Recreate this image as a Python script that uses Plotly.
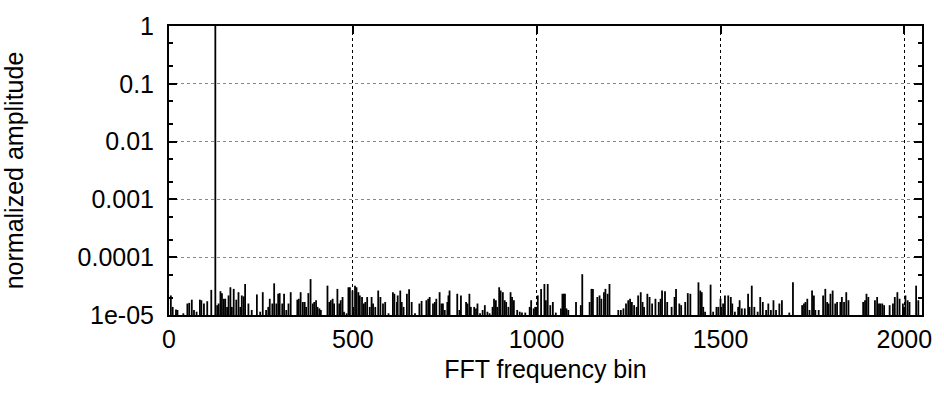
import plotly.graph_objects as go

# Main tone
peak_bin = [126]
peak_amp = [1.0]

# Noise floor spikes (bin, amplitude in units of 1e-5)
noise_bins = [
    5, 10, 19, 23, 39, 50, 55, 62, 68, 75, 84, 88, 95, 104, 115, 131, 135, 140, 144, 149,
    153, 158, 162, 167, 171, 176, 183, 189, 194, 198, 203, 207, 216, 225, 239, 248, 255, 264, 270, 274,
    281, 286, 292, 297, 301, 308, 313, 319, 325, 331, 349, 353, 358, 364, 369, 373, 379, 385, 391, 395,
    400, 404, 409, 413, 431, 436, 440, 445, 449, 458, 463, 467, 472, 476, 483, 488, 492, 499, 506, 510,
    515, 519, 525, 530, 534, 539, 546, 551, 555, 561, 569, 575, 582, 588, 597, 609, 613, 620, 622, 629,
    633, 638, 647, 653, 660, 669, 681, 687, 700, 705, 709, 718, 723, 727, 736, 741, 745, 750, 757, 760,
    763, 784, 790, 794, 808, 812, 817, 821, 830, 835, 839, 846, 853, 859, 866, 872, 880, 884, 889, 893,
    898, 902, 908, 913, 917, 923, 929, 933, 938, 947, 954, 960, 969, 981, 985, 992, 996, 1003, 1012, 1021,
    1025, 1030, 1037, 1044, 1052, 1066, 1070, 1074, 1077, 1081, 1086, 1107, 1120, 1124, 1144, 1149, 1153, 1165, 1171, 1176,
    1183, 1187, 1193, 1198, 1222, 1229, 1236, 1243, 1249, 1254, 1259, 1265, 1272, 1276, 1283, 1288, 1292, 1301, 1307, 1314,
    1323, 1332, 1337, 1341, 1349, 1355, 1367, 1375, 1379, 1388, 1393, 1404, 1411, 1418, 1440, 1445, 1449, 1453, 1458, 1473,
    1480, 1489, 1494, 1500, 1507, 1512, 1521, 1528, 1532, 1539, 1548, 1552, 1558, 1566, 1575, 1579, 1585, 1592, 1601, 1608,
    1615, 1624, 1630, 1637, 1644, 1651, 1660, 1667, 1687, 1697, 1722, 1727, 1731, 1736, 1742, 1749, 1754, 1758, 1767, 1779,
    1785, 1790, 1794, 1799, 1805, 1812, 1817, 1826, 1830, 1836, 1842, 1848, 1888, 1893, 1897, 1902, 1920, 1926, 1931, 1935,
    1940, 1945, 1960, 1969, 1974, 1981, 1987, 1996, 2003, 2009, 2014, 2032, 2038,
]
noise_amp_e5 = [
    2.18, 1.38, 1.25, 1.22, 1.07, 1.58, 1.62, 1.84, 1.22, 1.14, 1.84, 1.80, 1.58, 1.73, 2.72, 1.48, 1.58, 2.58, 2.39, 1.91,
    1.91, 1.38, 2.18, 3.02, 1.38, 2.83, 1.84, 2.48, 1.38, 2.18, 2.10, 3.44, 1.58, 1.22, 2.27, 1.14, 2.48, 1.22, 1.38, 1.91,
    1.58, 3.53, 1.58, 2.33, 2.39, 1.58, 2.33, 1.22, 1.58, 2.48, 1.84, 1.91, 2.48, 1.68, 1.68, 1.38, 2.39, 4.18, 1.58, 1.68,
    1.80, 1.38, 1.30, 1.22, 3.22, 1.68, 1.80, 1.91, 1.58, 2.83, 1.58, 1.80, 2.05, 1.14, 1.07, 3.02, 3.02, 2.65, 3.22, 3.02,
    2.48, 2.18, 2.05, 1.58, 1.68, 2.05, 1.38, 2.05, 1.58, 1.38, 2.65, 2.05, 1.58, 1.68, 1.07, 2.48, 2.33, 1.68, 2.18, 2.65,
    1.68, 1.38, 2.33, 2.80, 1.68, 1.07, 1.58, 1.75, 1.80, 1.91, 2.05, 1.58, 1.68, 1.91, 2.48, 1.58, 1.58, 1.22, 1.68, 2.18,
    2.65, 2.33, 1.22, 2.18, 1.68, 1.58, 2.33, 1.38, 1.38, 1.30, 1.58, 1.07, 1.22, 1.48, 1.14, 1.07, 1.38, 1.91, 1.80, 1.38,
    3.02, 2.65, 2.48, 1.80, 1.68, 1.38, 2.48, 2.05, 1.80, 1.22, 1.14, 1.10, 1.10, 1.38, 1.80, 1.30, 1.38, 2.18, 2.83, 3.44,
    1.80, 3.44, 1.48, 1.68, 1.10, 1.30, 2.33, 2.33, 2.33, 1.30, 1.22, 1.68, 1.48, 5.08, 1.68, 2.83, 2.83, 2.05, 2.18, 1.91,
    2.48, 2.83, 2.33, 3.44, 1.22, 1.22, 1.30, 1.58, 1.80, 1.91, 1.68, 1.48, 1.38, 2.18, 2.48, 1.68, 1.38, 2.33, 2.05, 1.58,
    1.91, 1.68, 1.91, 2.65, 2.58, 1.68, 1.38, 2.05, 2.83, 1.58, 1.48, 1.68, 2.39, 2.33, 3.67, 2.65, 2.48, 1.38, 1.14, 3.35,
    1.14, 1.38, 1.38, 1.91, 1.58, 2.18, 2.18, 2.05, 1.58, 1.14, 1.38, 1.80, 1.30, 1.30, 2.33, 1.38, 3.22, 1.38, 1.14, 2.05,
    1.68, 1.22, 1.58, 1.22, 1.80, 1.22, 1.58, 1.80, 1.10, 3.67, 1.48, 1.58, 1.68, 1.91, 1.22, 2.65, 2.18, 1.22, 1.22, 2.18,
    2.83, 1.68, 1.58, 2.33, 2.65, 1.58, 1.68, 1.68, 2.05, 1.68, 2.48, 1.80, 1.68, 1.80, 2.33, 2.05, 1.80, 2.05, 1.58, 1.58,
    1.58, 1.48, 1.48, 1.58, 2.05, 2.48, 1.91, 1.58, 2.18, 1.80, 1.68, 3.22, 1.80,
]
NOISE_UNIT = 1e-5

y_tick_vals = [1e-5, 1e-4, 1e-3, 1e-2, 1e-1, 1]
y_tick_text = ["1e-05", "0.0001", "0.001", "0.01", "0.1", "1"]
x_tick_vals = [0, 500, 1000, 1500, 2000]

FLOOR = 1e-5

# Build impulse segments (from floor up to value)
all_bins = peak_bin + noise_bins
all_amps = peak_amp + [a * NOISE_UNIT for a in noise_amp_e5]
xs, ys = [], []
for b, a in zip(all_bins, all_amps):
    xs += [b, b, None]
    ys += [FLOOR, a, None]

fig = go.Figure()
fig.add_trace(go.Scatter(
    x=xs, y=ys, mode="lines",
    line=dict(color="black", width=1.8),
    hoverinfo="skip", showlegend=False,
))

minor_vals = []
for d in range(-5, 0):
    minor_vals += [2 * 10 ** d, 5 * 10 ** d]

FAM = "Liberation Sans, Arial, sans-serif"
tick_font = dict(family=FAM, size=25, color="black")
title_font = dict(family=FAM, size=25, color="black")

fig.update_layout(
    width=944, height=400,
    margin=dict(l=168, r=15, t=20, b=85),
    paper_bgcolor="white", plot_bgcolor="white",
    font=tick_font,
    xaxis=dict(
        range=[0, 2048],
        tickvals=x_tick_vals,
        ticks="inside", ticklen=8, tickwidth=1.5, tickcolor="black",
        showline=True, linecolor="black", linewidth=2, mirror="ticks",
        showgrid=True, gridcolor="black", griddash="dot", gridwidth=1,
        zeroline=False,
        ticklabelstandoff=1,
        title=dict(text="FFT frequency bin", standoff=8, font=title_font),
        tickfont=tick_font,
    ),
    yaxis=dict(
        type="log",
        range=[-5, 0],
        tickvals=y_tick_vals, ticktext=y_tick_text,
        ticks="inside", ticklen=8, tickwidth=1.5, tickcolor="black",
        showline=True, linecolor="black", linewidth=2, mirror="ticks",
        showgrid=True, gridcolor="#888888", griddash="dot", gridwidth=1,
        zeroline=False,
        ticklabelstandoff=8,
        title=dict(text="normalized amplitude", standoff=48, font=title_font),
        tickfont=tick_font,
        minor=dict(tickvals=minor_vals, ticks="inside", ticklen=4,
                   tickwidth=1.5, tickcolor="black", showgrid=False),
    ),
)

fig.write_html("out.html", config={"displayModeBar": False},
               post_script="document.body.style.margin='0';")
